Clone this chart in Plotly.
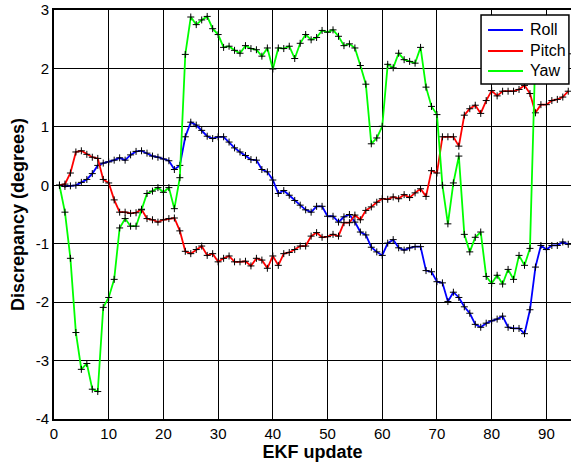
import plotly.graph_objects as go

updates = list(range(1, 95))

roll = [0.00, -0.02, -0.01, 0.00, 0.05, 0.10, 0.20, 0.34, 0.38, 0.40,
        0.43, 0.47, 0.43, 0.52, 0.58, 0.59, 0.55, 0.50, 0.48, 0.45,
        0.42, 0.27, 0.34, 0.83, 1.08, 1.03, 0.94, 0.84, 0.80, 0.83,
        0.83, 0.74, 0.64, 0.57, 0.51, 0.44, 0.43, 0.27, 0.23, 0.09,
        -0.14, -0.09, -0.17, -0.26, -0.34, -0.42, -0.46, -0.36, -0.36, -0.53,
        -0.53, -0.63, -0.54, -0.50, -0.63, -0.80, -0.85, -1.06, -1.14, -1.20,
        -0.99, -0.93, -1.07, -1.11, -1.07, -1.05, -1.05, -1.46, -1.48, -1.65,
        -1.67, -1.99, -1.83, -1.92, -2.08, -2.19, -2.38, -2.43, -2.36, -2.32,
        -2.29, -2.24, -2.43, -2.45, -2.45, -2.54, -2.13, -1.40, -1.03, -1.10,
        -1.03, -1.03, -0.97, -1.01]

pitch = [0.00, 0.02, 0.21, 0.57, 0.59, 0.53, 0.48, 0.46, 0.10, 0.04,
         -0.25, -0.46, -0.46, -0.48, -0.47, -0.41, -0.57, -0.59, -0.63, -0.59,
         -0.57, -0.56, -0.78, -1.13, -1.17, -1.10, -1.04, -1.20, -1.17, -1.31,
         -1.25, -1.21, -1.31, -1.31, -1.30, -1.38, -1.25, -1.28, -1.42, -1.21,
         -1.37, -1.17, -1.15, -1.10, -1.04, -1.04, -0.87, -0.81, -0.89, -0.88,
         -0.84, -0.87, -0.64, -0.64, -0.51, -0.59, -0.43, -0.37, -0.29, -0.23,
         -0.24, -0.20, -0.23, -0.16, -0.21, -0.13, -0.06, -0.19, 0.25, 0.21,
         0.83, 0.83, 0.83, 0.67, 1.20, 1.31, 1.37, 1.23, 1.45, 1.62,
         1.53, 1.61, 1.61, 1.61, 1.64, 1.71, 1.57, 1.24, 1.38, 1.38,
         1.45, 1.47, 1.51, 1.61]

yaw = [0.00, -0.46, -1.25, -2.52, -3.15, -3.05, -3.49, -3.53, -2.09, -1.92,
       -1.61, -0.73, -0.57, -0.70, -0.70, -0.42, -0.14, -0.10, -0.04, -0.12,
       -0.04, -0.40, 0.13, 2.24, 2.88, 2.75, 2.83, 2.89, 2.68, 2.58,
       2.36, 2.38, 2.31, 2.26, 2.39, 2.34, 2.32, 2.21, 2.35, 1.99,
       2.35, 2.34, 2.38, 2.17, 2.43, 2.58, 2.49, 2.53, 2.65, 2.62,
       2.66, 2.55, 2.39, 2.42, 2.35, 2.05, 1.73, 0.71, 0.81, 1.01,
       2.07, 2.01, 2.26, 2.15, 2.12, 2.09, 2.36, 1.68, 1.35, 1.21,
       0.00, -0.66, 0.04, 0.50, -0.84, -1.14, -0.89, -0.80, -1.56, -1.68,
       -1.54, -1.69, -1.44, -1.61, -1.20, -1.37, -1.08, 2.30, 2.40, 2.35,
       2.30, 2.30, 2.28, 2.25]

series_names = ["Roll", "Pitch", "Yaw"]
series_colors = ["#0000FF", "#FF0000", "#00FF00"]
x_ticks = [0, 10, 20, 30, 40, 50, 60, 70, 80, 90]
x_ticklabels = ["0", "10", "20", "30", "40", "50", "60", "70", "80", "90"]
y_ticks = [-4, -3, -2, -1, 0, 1, 2, 3]
y_ticklabels = ["-4", "-3", "-2", "-1", "0", "1", "2", "3"]

FONT = "Liberation Sans, Arial, sans-serif"

fig = go.Figure()
for name, vals, col in zip(series_names, [roll, pitch, yaw], series_colors):
    fig.add_trace(go.Scatter(
        x=updates, y=vals, mode="lines+markers", name=name, showlegend=False,
        line=dict(color=col, width=1.8),
        marker=dict(symbol="cross-thin", size=5, color="black",
                    line=dict(color="black", width=1)),
    ))

# legend box drawn in paper coordinates (MATLAB-style legend)
shapes = [dict(type="rect", xref="paper", yref="paper",
               x0=0.826, x1=0.996, y0=0.8192, y1=0.988,
               fillcolor="white", line=dict(color="black", width=1.5),
               layer="above")]
annotations = []
legend_rows_y = [0.9514, 0.8998, 0.851]
for name, col, ly in zip(series_names, series_colors, legend_rows_y):
    shapes.append(dict(type="line", xref="paper", yref="paper",
                       x0=0.8395, x1=0.9072, y0=ly, y1=ly,
                       line=dict(color=col, width=2), layer="above"))
    annotations.append(dict(xref="paper", yref="paper", x=0.9168, y=ly,
                            xanchor="left", yanchor="middle", showarrow=False,
                            text=name, font=dict(family=FONT, size=16, color="black")))

fig.update_layout(
    width=571, height=468,
    margin=dict(l=54, r=0, t=10, b=49),
    paper_bgcolor="white", plot_bgcolor="white",
    font=dict(family=FONT, size=14, color="black"),
    showlegend=False,
    shapes=shapes, annotations=annotations,
    xaxis=dict(
        range=[0, 94.5], tickvals=x_ticks, ticktext=x_ticklabels,
        showgrid=True, gridcolor="black", gridwidth=1, zeroline=False,
        showline=True, linecolor="black", linewidth=2, mirror=True,
        ticks="inside", ticklen=4, tickcolor="black",
        tickfont=dict(family=FONT, size=15),
        title=dict(text="<b>EKF update</b>", font=dict(family=FONT, size=18), standoff=4),
    ),
    yaxis=dict(
        range=[-4, 3], tickvals=y_ticks, ticktext=y_ticklabels,
        showgrid=True, gridcolor="black", gridwidth=1, zeroline=False,
        showline=True, linecolor="black", linewidth=2, mirror=False,
        ticks="inside", ticklen=4, tickcolor="black",
        tickfont=dict(family=FONT, size=15),
        title=dict(text="<b>Discrepancy (degrees)</b>", font=dict(family=FONT, size=18), standoff=6),
    ),
)

fig.write_html("out.html")
